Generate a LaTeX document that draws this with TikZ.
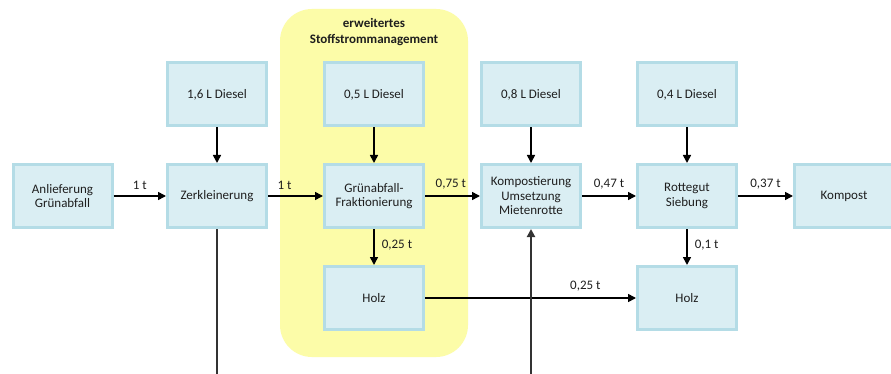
\documentclass[tikz,border=0pt]{standalone}
\usepackage{fontspec}
\setmainfont{Carlito}
\usetikzlibrary{arrows.meta}
\definecolor{boxfill}{RGB}{218,238,243}
\definecolor{boxline}{RGB}{180,220,230}
\definecolor{zone}{RGB}{252,252,168}
\definecolor{txt}{RGB}{30,30,30}
\begin{document}
\begin{tikzpicture}[x=1pt,y=-1pt,
  box/.style={draw=boxline,fill=boxfill,line width=3pt,minimum width=99pt,minimum height=63pt,
    inner sep=0pt,align=center,font=\fontsize{13}{14.5}\selectfont,text=txt},
  flow/.style={line width=1.6pt,-{Triangle[length=8pt,width=8pt]}},
  plain/.style={line width=2pt,draw=black!80},
  lbl/.style={font=\fontsize{13}{14.5}\selectfont,text=txt,inner sep=0pt}]
\useasboundingbox (0,0) rectangle (891,374);
\fill[white] (0,0) rectangle (891,374);
\fill[zone,rounded corners=32pt] (280,9) rectangle (468,357);
\node[lbl,font=\fontsize{13}{15.5}\selectfont\bfseries,align=center] (title) at (374,32) {erweitertes\\Stoffstrommanagement};

\node[box] (anl) at (62.5,196) {Anlieferung\\Grünabfall};
\node[box] (zerk) at (217,196) {Zerkleinerung};
\node[box] (frak) at (374,196) {Grünabfall-\\Fraktionierung};
\node[box] (komp) at (531,196) {Kompostierung\\Umsetzung\\Mietenrotte};
\node[box] (rott) at (687,196) {Rottegut\\Siebung};
\node[box] (kompost) at (844,196) {Kompost};

\node[box] (d1) at (217,94.5) {1,6 L Diesel};
\node[box] (d2) at (374,94.5) {0,5 L Diesel};
\node[box] (d3) at (531,94.5) {0,8 L Diesel};
\node[box] (d4) at (687,94.5) {0,4 L Diesel};

\node[box] (holz1) at (374,298) {Holz};
\node[box] (holz2) at (687,298) {Holz};

\coordinate (zbot) at (217,380);
\coordinate (kbot) at (531,380);

\draw[flow] (d1) -- (zerk);
\draw[flow] (d2) -- (frak);
\draw[flow] (d3) -- (komp);
\draw[flow] (d4) -- (rott);

\draw[flow] (anl) -- node[lbl,above=6pt] {1 t} (zerk);
\draw[flow] (zerk) -- node[lbl,above=6pt,pos=0.3] {1 t} (frak);
\draw[flow] (frak) -- node[lbl,above=6pt,pos=0.47] {0,75 t} (komp);
\draw[flow] (komp) -- node[lbl,above=6pt] {0,47 t} (rott);
\draw[flow] (rott) -- node[lbl,above=6pt] {0,37 t} (kompost);

\draw[flow] (frak) -- node[lbl,right=7pt,pos=0.45] {0,25 t} (holz1);
\draw[flow] (rott) -- node[lbl,right=7pt,pos=0.45] {0,1 t} (holz2);
\draw[flow] (holz1) -- node[lbl,above=6pt,pos=0.76] {0,25 t} (holz2);

\draw[plain] (zerk.south) -- (zbot);
\draw[plain,-{Triangle[length=8pt,width=8pt]}] (kbot) -- (komp.south);
\end{tikzpicture}
\end{document}
